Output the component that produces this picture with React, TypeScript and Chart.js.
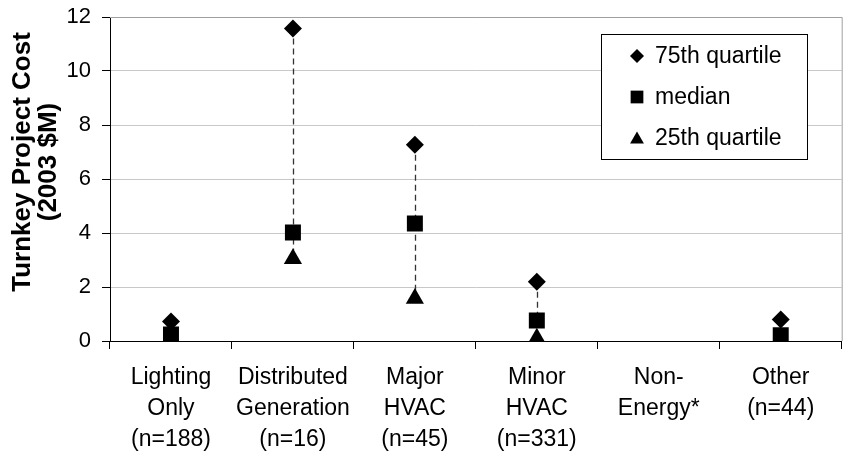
import React, { useEffect, useRef } from "react";
import { Chart, registerables } from "chart.js";

Chart.register(...registerables);

const categories: string[][] = [
  ["Lighting", "Only", "(n=188)"],
  ["Distributed", "Generation", "(n=16)"],
  ["Major", "HVAC", "(n=45)"],
  ["Minor", "HVAC", "(n=331)"],
  ["Non-", "Energy*"],
  ["Other", "(n=44)"],
];

const q75: (number | null)[] = [0.72, 11.57, 7.27, 2.19, null, 0.8];
const median: (number | null)[] = [0.24, 4.02, 4.35, 0.76, null, 0.21];
const q25: (number | null)[] = [0.02, 3.05, 1.57, 0.1, null, 0.02];

const seriesNames = ["75th quartile", "median", "25th quartile"];
const yTicks = [0, 2, 4, 6, 8, 10, 12];
const yTitle = ["Turnkey Project Cost", "(2003 $M)"];

const FONT = '"Liberation Sans", Arial, sans-serif';

function drawMarker(ctx: CanvasRenderingContext2D, style: string, x: number, y: number, r: number) {
  ctx.beginPath();
  if (style === "rectRot") {
    ctx.moveTo(x, y - r);
    ctx.lineTo(x + r, y);
    ctx.lineTo(x, y + r);
    ctx.lineTo(x - r, y);
  } else if (style === "rect") {
    const s = r * Math.SQRT1_2;
    ctx.rect(x - s, y - s, 2 * s, 2 * s);
  } else {
    ctx.moveTo(x, y - r);
    ctx.lineTo(x + r * 0.866, y + r * 0.5);
    ctx.lineTo(x - r * 0.866, y + r * 0.5);
  }
  ctx.closePath();
  ctx.fill();
}

const rangePlugin = {
  id: "rangeLines",
  beforeDatasetsDraw(chart: any) {
    const { ctx, chartArea, scales } = chart;
    const x = scales.x;
    const y = scales.y;
    ctx.save();
    ctx.strokeStyle = "#a0a0a0";
    ctx.lineWidth = 1;
    ctx.beginPath();
    ctx.moveTo(chartArea.left, chartArea.top + 0.5);
    ctx.lineTo(chartArea.right + 0.5, chartArea.top + 0.5);
    ctx.lineTo(chartArea.right + 0.5, chartArea.bottom);
    ctx.stroke();
    ctx.strokeStyle = "#333";
    ctx.lineWidth = 1.3;
    ctx.setLineDash([6, 4]);
    categories.forEach((_, i) => {
      const hi = q75[i];
      const lo = q25[i];
      if (hi == null || lo == null) return;
      const px = Math.round(x.getPixelForValue(i)) + 0.5;
      ctx.beginPath();
      ctx.moveTo(px, y.getPixelForValue(hi));
      ctx.lineTo(px, y.getPixelForValue(lo));
      ctx.stroke();
    });
    ctx.restore();
  },
  afterDraw(chart: any) {
    const { ctx, chartArea } = chart;
    ctx.save();
    ctx.fillStyle = "#000";
    ctx.font = `bold 26px ${FONT}`;
    ctx.textAlign = "center";
    ctx.textBaseline = "middle";
    const cy = (chartArea.top + chartArea.bottom) / 2 - 17;
    yTitle.forEach((t, i) => {
      ctx.save();
      ctx.translate(23 + i * 26, cy);
      ctx.rotate(-Math.PI / 2);
      ctx.fillText(t, 0, 0);
      ctx.restore();
    });
    const bx = 601, by = 34, bw = 206, bh = 125;
    ctx.fillStyle = "#fff";
    ctx.fillRect(bx, by, bw, bh);
    ctx.strokeStyle = "#000";
    ctx.lineWidth = 1;
    ctx.strokeRect(bx + 0.5, by + 0.5, bw, bh);
    const styles = ["rectRot", "rect", "triangle"];
    const radii = [7, 9, 8];
    ctx.font = `23px ${FONT}`;
    ctx.textAlign = "left";
    ctx.textBaseline = "middle";
    seriesNames.forEach((name, i) => {
      const rowY = 56 + i * 41;
      ctx.fillStyle = "#000";
      drawMarker(ctx, styles[i], 637, rowY + (i === 2 ? 1.5 : 0), radii[i]);
      ctx.fillText(name, 655, rowY + 1);
    });
    ctx.restore();
  },
};

export default function App() {
  const canvasRef = useRef<HTMLCanvasElement | null>(null);

  useEffect(() => {
    document.body.style.margin = "0";
    const canvas = canvasRef.current;
    if (!canvas) return;
    const chart = new Chart(canvas, {
      type: "line",
      data: {
        labels: categories,
        datasets: [
          {
            label: seriesNames[0],
            data: q75,
            showLine: false,
            pointStyle: "rectRot",
            pointRadius: 9,
            backgroundColor: "#000",
            borderColor: "#000",
            borderWidth: 0,
          },
          {
            label: seriesNames[1],
            data: median,
            showLine: false,
            pointStyle: "rect",
            pointRadius: 11.3,
            backgroundColor: "#000",
            borderColor: "#000",
            borderWidth: 0,
          },
          {
            label: seriesNames[2],
            data: q25,
            showLine: false,
            pointStyle: "triangle",
            pointRadius: 10.5,
            backgroundColor: "#000",
            borderColor: "#000",
            borderWidth: 0,
          },
        ],
      },
      options: {
        responsive: false,
        animation: false,
        devicePixelRatio: 1,
        layout: { padding: { top: 17, right: 5, left: 0, bottom: 0 } },
        plugins: {
          legend: { display: false },
          tooltip: { enabled: false },
        },
        scales: {
          x: {
            type: "category",
            offset: true,
            grid: {
              display: true,
              offset: true,
              drawOnChartArea: false,
              drawTicks: true,
              tickLength: 8,
              tickColor: "#000",
              color: "#000",
            },
            border: { color: "#000", width: 1 },
            ticks: {
              color: "#000",
              padding: 13,
              maxRotation: 0,
              autoSkip: false,
              font: {
                family: FONT,
                size: 23,
                lineHeight: 1.35,
              },
            },
            afterFit: (s: any) => {
              s.height = 114;
              s.paddingLeft = 0;
              s.paddingRight = 0;
            },
          },
          y: {
            min: 0,
            max: 12,
            afterBuildTicks: (s: any) => {
              s.ticks = yTicks.map((v) => ({ value: v }));
            },
            grid: {
              color: (c: any) => (c.tick && c.tick.value === 0 ? "#000" : "#c8c8c8"),
              tickColor: "#000",
              tickLength: 8,
              drawTicks: true,
            },
            border: { color: "#000", width: 1 },
            ticks: {
              color: "#000",
              padding: 11,
              font: { family: FONT, size: 22 },
            },
            afterFit: (s: any) => {
              s.width = 110;
              s.paddingTop = 0;
              s.paddingBottom = 0;
            },
          },
        },
      },
      plugins: [rangePlugin],
    });
    return () => chart.destroy();
  }, []);

  return (
    <div style={{ width: 853, height: 455 }}>
      <canvas ref={canvasRef} width={853} height={455} />
    </div>
  );
}
